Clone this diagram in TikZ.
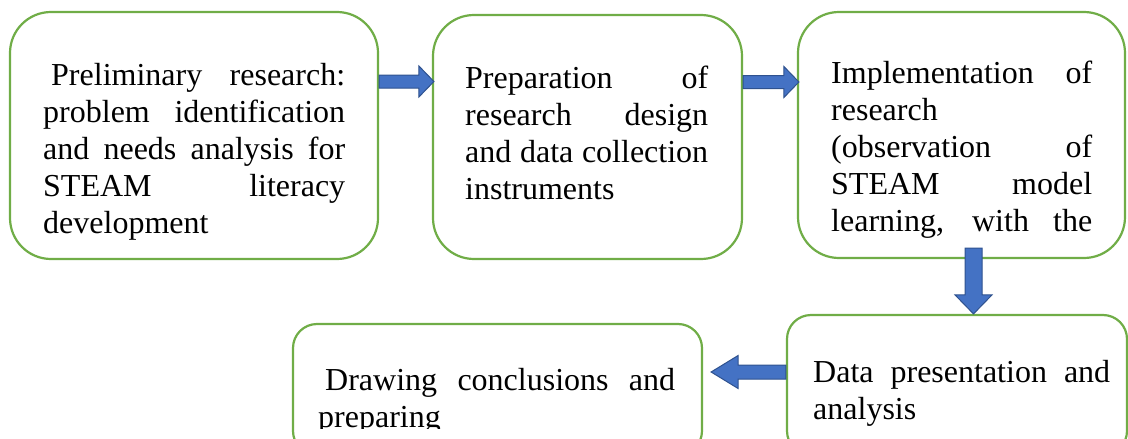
\documentclass[tikz,border=0pt]{standalone}
\usepackage{fontspec}
\setmainfont{Liberation Serif}
\usetikzlibrary{calc}
\definecolor{boxgreen}{HTML}{70AD47}
\definecolor{arrfill}{HTML}{4472C4}
\definecolor{arrline}{HTML}{2F528F}
\tikzset{
  stagebox/.style={draw=boxgreen, line width=2.2pt, rectangle, fill=white, inner sep=0pt},
  stagetext/.style={anchor=north west, inner sep=0pt, align=justify, font=\fontsize{32}{37}\selectfont},
  blockarrow/.style={fill=arrfill, draw=arrline, line width=1pt, line join=miter},
}
\newcommand\jl[1]{\makebox[\hsize][s]{#1}}
% #1 start, #2 tip, #3 shaft half width, #4 head half width, #5 head length
\newcommand\fatarrow[5]{%
  \path[blockarrow] let \p1=(#1), \p2=(#2),
    \n1={atan2(\y2-\y1,\x2-\x1)}, \n2={veclen(\x2-\x1,\y2-\y1)} in
    [shift={(\p1)}, rotate=\n1]
    (0,-#3) -- ({\n2-#5},-#3) -- ({\n2-#5},-#4) -- (\n2,0) --
    ({\n2-#5},#4) -- ({\n2-#5},#3) -- (0,#3) -- cycle;}
\begin{document}
\begin{tikzpicture}[x=1pt,y=-1pt]
\useasboundingbox (0,0) rectangle (1128,439);
\clip (0,0) rectangle (1128,439);

% boxes
\node[stagebox, minimum width=368pt, minimum height=247pt, rounded corners=41pt] (b1) at (194,135.5) {};
\node[stagebox, minimum width=309pt, minimum height=244pt, rounded corners=41pt] (b2) at (587.5,137) {};
\node[stagebox, minimum width=327pt, minimum height=246pt, rounded corners=41pt] (b3) at (961.5,135) {};
\node[stagebox, minimum width=340pt, minimum height=140pt, rounded corners=24pt] (b4) at (957,385) {};
\node[stagebox, minimum width=409pt, minimum height=131pt, rounded corners=24pt] (b5) at (497.5,389.5) {};

% texts
\node[stagetext, text width=302pt] (t1) at (43,59.1)
  {\noindent\strut\jl{\hspace*{8pt}Preliminary research:}\\
   \jl{problem identification}\\
   \jl{and needs analysis for}\\
   \jl{STEAM literacy}\\
   development};
\node[stagetext, text width=243pt] (t2) at (465,62.1)
  {\noindent\strut\jl{Preparation of}\\
   \jl{research design}\\
   \jl{and data collection}\\
   instruments};
\begin{scope}
  \clip (b3.north west) rectangle (b3.east |- 0,237);
  \node[stagetext, text width=261pt] (t3) at (831,57.1)
  {\noindent\strut\jl{Implementation of}\\
   research\\
   \jl{(observation of}\\
   \jl{STEAM model}\\
   \jl{learning, with the}};
\end{scope}
\node[stagetext, text width=297pt] (t4) at (813,356.1)
  {\noindent\strut\jl{Data presentation and}\\
   analysis};
\begin{scope}
  \clip (b5.north west) rectangle (b5.east |- 0,428);
  \node[stagetext, text width=357pt] (t5) at (318,364.1)
  {\noindent\strut\jl{\hspace*{7pt}Drawing conclusions and}\\
   preparing};
\end{scope}

% connectors
\coordinate (a1s) at (b1.east |- 0,81.5);
\coordinate (a1e) at ([xshift=2pt]b2.west |- 0,81.5);
\coordinate (a2s) at (b2.east |- 0,82);
\coordinate (a2e) at ([xshift=2pt]b3.west |- 0,82);
\coordinate (d1) at ([xshift=12pt,yshift=11pt]b3.south);
\coordinate (d2) at (d1 |- b4.north);
\coordinate (l1) at (b4.west |- 0,372);
\coordinate (l2) at ([xshift=8pt]b5.east |- 0,372);

\fatarrow{a1s}{a1e}{6.5}{15.5}{15}
\fatarrow{a2s}{a2e}{6.5}{15.5}{15}
\fatarrow{d1}{d2}{8.5}{18.5}{19}
\fatarrow{l1}{l2}{7}{16.5}{27}
\end{tikzpicture}
\end{document}
